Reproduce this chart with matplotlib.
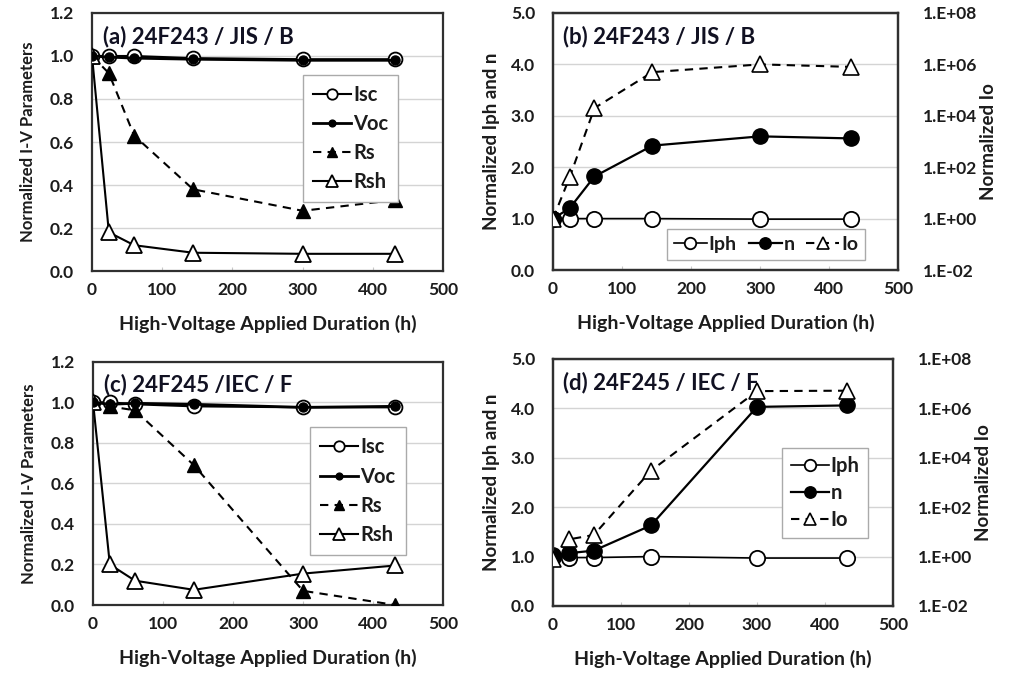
import matplotlib
matplotlib.use("Agg")
import matplotlib.pyplot as plt
import numpy as np

plt.rcParams["font.family"] = ["Lato", "DejaVu Sans"]
plt.rcParams["font.weight"] = "bold"
plt.rcParams["axes.labelweight"] = "bold"

TXT = "#1c1c1c"

# hours of high-voltage stress
hours = [0, 24, 60, 144, 300, 432]

# (a) 24F243 / JIS / B
a_isc = [1.0, 1.0, 1.0, 0.99, 0.985, 0.985]
a_voc = [1.0, 0.995, 0.99, 0.985, 0.98, 0.98]
a_rs = [1.0, 0.92, 0.63, 0.38, 0.28, 0.33]
a_rsh = [1.0, 0.18, 0.12, 0.085, 0.08, 0.08]

# (b) 24F243 / JIS / B
b_iph = [1.0, 1.0, 1.0, 1.0, 0.99, 0.99]
b_n = [1.0, 1.2, 1.82, 2.42, 2.6, 2.56]
b_io = [1.0, 40, 2.0e4, 5.0e5, 1.0e6, 8.0e5]

# (c) 24F245 / IEC / F
c_isc = [1.0, 1.0, 0.99, 0.98, 0.975, 0.975]
c_voc = [1.0, 0.99, 0.995, 0.99, 0.975, 0.98]
c_rs = [1.0, 0.98, 0.96, 0.69, 0.07, 0.0]
c_rsh = [1.0, 0.2, 0.12, 0.075, 0.155, 0.195]

# (d) 24F245 / IEC / F
d_iph = [1.0, 0.98, 0.98, 1.0, 0.97, 0.97]
d_n = [1.03, 1.07, 1.12, 1.63, 4.03, 4.06]
d_io = [0.8, 5.0, 7.5, 3.0e3, 5.0e6, 5.2e6]

iv_ticks = [0.0, 0.2, 0.4, 0.6, 0.8, 1.0, 1.2]
iph_ticks = [0.0, 1.0, 2.0, 3.0, 4.0, 5.0]
io_ticks = [1e-2, 1e0, 1e2, 1e4, 1e6, 1e8]
io_labels = ["1.E-02", "1.E+00", "1.E+02", "1.E+04", "1.E+06", "1.E+08"]
x_ticks = [0, 100, 200, 300, 400, 500]

fig = plt.figure(figsize=(10.27, 6.73), dpi=100)


def style_axes(ax, yticks, fmt):
    ax.set_xlim(0, 500)
    ax.set_ylim(yticks[0], yticks[-1])
    ax.set_xticks(x_ticks)
    ax.set_yticks(yticks)
    ax.set_yticklabels([fmt.format(v) for v in yticks])
    ax.yaxis.grid(True, color="#d4d4d4", lw=1.0)
    ax.set_axisbelow(True)
    for s in ax.spines.values():
        s.set_color("#303030")
        s.set_linewidth(1.6)
    ax.tick_params(axis="y", length=0, pad=13, labelsize=12.5, colors=TXT)
    ax.tick_params(axis="x", direction="in", length=3, color="#c8c8c8",
                   pad=8, labelsize=12.5, labelcolor=TXT)
    for lab in ax.get_xticklabels() + ax.get_yticklabels():
        lab.set_fontweight("bold")
    ax.set_xlabel("High-Voltage Applied Duration (h)", fontsize=14,
                  color=TXT, labelpad=12)


def style_legend(leg):
    leg.get_frame().set_linewidth(1.0)
    for t in leg.get_texts():
        t.set_fontweight("bold")
        t.set_color(TXT)


def iv_panel(rect, title, isc, voc, rs, rsh, leg_box):
    ax = fig.add_axes(rect)
    style_axes(ax, iv_ticks, "{:.1f}")
    ax.plot(hours, isc, "-o", color="k", lw=1.5, ms=10, mfc="white",
            mec="k", mew=1.3, label="Isc", zorder=3)
    ax.plot(hours, voc, "-o", color="k", lw=2.0, ms=6.5, mfc="k",
            label="Voc", zorder=4)
    ax.plot(hours, rs, "--^", color="k", lw=1.5, ms=10, mfc="k",
            dashes=(4, 3), label="Rs", zorder=3)
    ax.plot(hours, rsh, "-^", color="k", lw=1.5, ms=11, mfc="white",
            mec="k", mew=1.3, label="Rsh", zorder=3)
    ax.set_ylabel("Normalized I-V Parameters", fontsize=12, color=TXT,
                  labelpad=10)
    ax.text(0.03, 0.95, title, transform=ax.transAxes, fontsize=16,
            fontweight="bold", color="#111122", va="top", ha="left")
    leg = ax.legend(loc="upper left", bbox_to_anchor=leg_box, ncol=1,
                    fontsize=14.5, frameon=True, fancybox=False,
                    edgecolor="#aaaaaa", framealpha=1, handlelength=1.9,
                    handletextpad=0.1, labelspacing=0.45, borderpad=0.5,
                    borderaxespad=0, markerscale=0.75)
    style_legend(leg)
    return ax


def diode_panel(rect, title, iph, n, io, leg_kw):
    ax = fig.add_axes(rect)
    style_axes(ax, iph_ticks, "{:.1f}")
    ax.set_ylabel("Normalized Iph and n", fontsize=13.5, color=TXT,
                  labelpad=8)
    ax2 = ax.twinx()
    ax2.set_yscale("log")
    ax2.set_ylim(1e-2, 1e8)
    ax2.set_yticks(io_ticks)
    ax2.set_yticklabels(io_labels)
    ax2.minorticks_off()
    ax2.tick_params(axis="y", length=0, pad=18, labelsize=12.5, colors=TXT)
    for lab in ax2.get_yticklabels():
        lab.set_fontweight("bold")
    ax2.set_ylabel("Normalized Io", fontsize=13.5, color=TXT, labelpad=2)
    for s in ax2.spines.values():
        s.set_color("#303030")
        s.set_linewidth(1.6)

    l1, = ax.plot(hours, iph, "-o", color="k", lw=1.2, ms=11, mfc="white",
                  mec="k", mew=1.3, label="Iph", zorder=3)
    l2, = ax.plot(hours, n, "-o", color="k", lw=1.6, ms=11, mfc="k",
                  label="n", zorder=4)
    l3, = ax2.plot(hours, io, "--^", color="k", lw=1.5, ms=12, mfc="white",
                   mec="k", mew=1.2, dashes=(4, 3), label="Io", zorder=3)
    ax.text(0.03, 0.95, title, transform=ax.transAxes, fontsize=16,
            fontweight="bold", color="#111122", va="top", ha="left")
    leg = ax2.legend(handles=[l1, l2, l3], frameon=True,
                     fancybox=False, edgecolor="#aaaaaa", framealpha=1,
                     handletextpad=0.1, borderaxespad=0, markerscale=0.75,
                     **leg_kw)
    style_legend(leg)
    return ax


iv_panel([0.0896, 0.5973, 0.3418, 0.3834], "(a) 24F243 / JIS / B",
         a_isc, a_voc, a_rs, a_rsh, (0.60, 0.76))
diode_panel([0.5385, 0.5988, 0.3360, 0.3819], "(b) 24F243 / JIS / B",
            b_iph, b_n, b_io,
            dict(loc="lower left", bbox_to_anchor=(0.33, 0.04), ncol=3,
                 fontsize=14, handlelength=1.7, borderpad=0.35,
                 columnspacing=0.6))
iv_panel([0.0906, 0.1010, 0.3408, 0.3615], "(c) 24F245 /IEC / F",
         c_isc, c_voc, c_rs, c_rsh, (0.62, 0.73))
diode_panel([0.5385, 0.0996, 0.3310, 0.3670], "(d) 24F245 / IEC / F",
            d_iph, d_n, d_io,
            dict(loc="upper left", bbox_to_anchor=(0.675, 0.64), ncol=1,
                 fontsize=14.5, handlelength=1.9, borderpad=0.4,
                 labelspacing=0.35))

fig.savefig("out.png", dpi=100, facecolor="white")
